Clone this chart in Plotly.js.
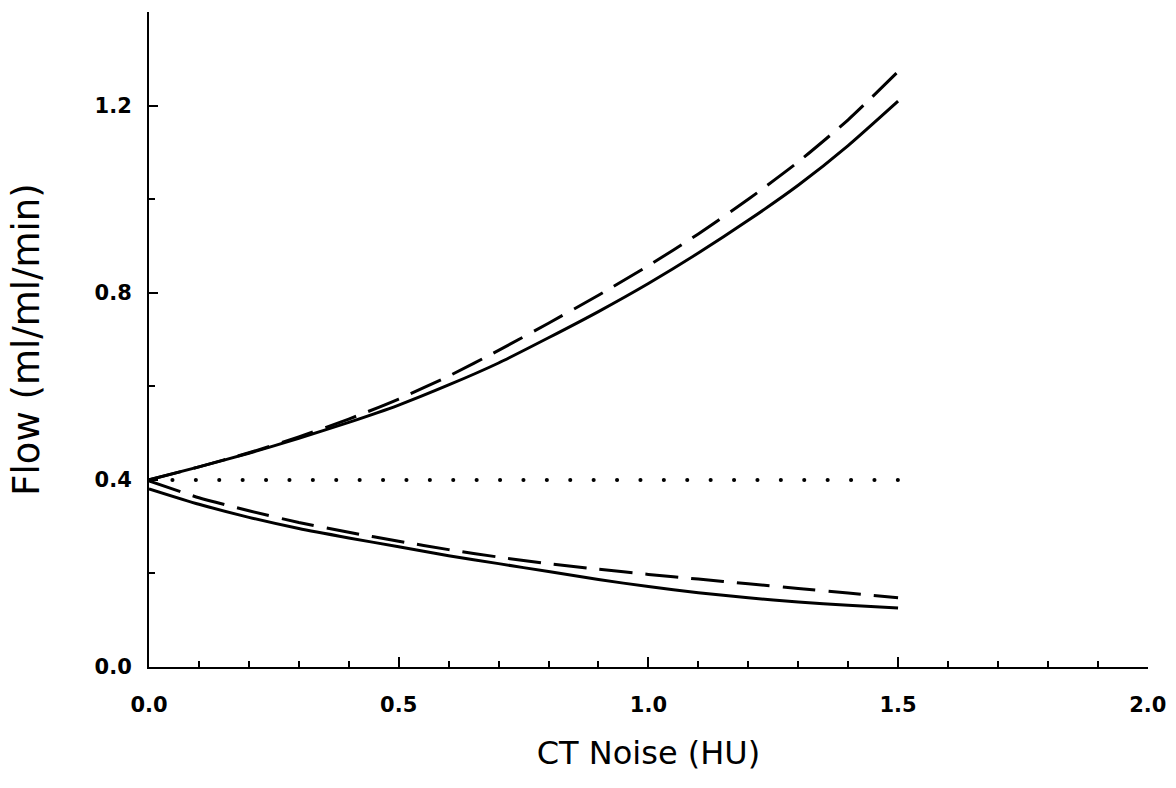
<!DOCTYPE html>
<html>
<head>
<meta charset="utf-8">
<script src="https://cdn.plot.ly/plotly-3.0.1.min.js"></script>
<style>
html,body{margin:0;padding:0;background:#fff;}
#chart{width:1176px;height:788px;}
.scatterlayer .trace:first-child path.js-line{stroke-linecap:round;}
</style>
</head>
<body>
<div id="chart"></div>
<script>
// CT noise (HU)
const noise = [0.0, 0.1, 0.2, 0.3, 0.4, 0.5, 0.6, 0.7, 0.8, 0.9, 1.0, 1.1, 1.2, 1.3, 1.4, 1.5];
// Flow (ml/ml/min) curves
const upperSolid  = [0.400, 0.428, 0.457, 0.489, 0.523, 0.560, 0.603, 0.650, 0.704, 0.760, 0.820, 0.885, 0.955, 1.030, 1.115, 1.210];
const upperDashed = [0.400, 0.428, 0.458, 0.492, 0.530, 0.573, 0.622, 0.677, 0.735, 0.795, 0.858, 0.926, 1.000, 1.080, 1.170, 1.273];
const lowerSolid  = [0.381, 0.348, 0.320, 0.296, 0.276, 0.257, 0.238, 0.221, 0.204, 0.187, 0.172, 0.159, 0.148, 0.139, 0.132, 0.126];
const lowerDashed = [0.398, 0.362, 0.334, 0.309, 0.288, 0.269, 0.251, 0.235, 0.221, 0.209, 0.198, 0.188, 0.178, 0.168, 0.158, 0.148];
// true flow reference
const trueX = [0.0, 1.5];
const trueFlow = [0.4, 0.4];

const xTitle = 'CT Noise (HU)';
const yTitle = 'Flow (ml/ml/min)';

const solid = {color: '#000', width: 3, shape: 'spline', smoothing: 0.6};
const dashed = {color: '#000', width: 3, dash: '33px,13px', shape: 'spline', smoothing: 0.6};

const traces = [
  {x: trueX, y: trueFlow, mode: 'lines', line: {color: '#000', width: 4, dash: '0.1px,23.3px'}, hoverinfo: 'skip'},
  {x: noise, y: upperSolid, mode: 'lines', line: solid, hoverinfo: 'skip'},
  {x: noise, y: upperDashed, mode: 'lines', line: dashed, hoverinfo: 'skip'},
  {x: noise, y: lowerSolid, mode: 'lines', line: solid, hoverinfo: 'skip'},
  {x: noise, y: lowerDashed, mode: 'lines', line: dashed, hoverinfo: 'skip'}
];

const tickFont = {family: 'DejaVu Sans, sans-serif', size: 21, color: '#000', weight: 'bold'};

const layout = {
  width: 1176, height: 788,
  margin: {l: 149, r: 28, t: 12, b: 121},
  paper_bgcolor: '#fff', plot_bgcolor: '#fff',
  showlegend: false,
  xaxis: {
    range: [0, 2.0005], showgrid: false, zeroline: false,
    showline: true, linecolor: '#000', linewidth: 2,
    ticks: 'inside', ticklen: 10, tickwidth: 2, tickcolor: '#000',
    dtick: 0.5, tick0: 0, tickformat: '.1f',
    tickfont: tickFont, ticklabelstandoff: 18,
    minor: {dtick: 0.1, tick0: 0, ticks: 'inside', ticklen: 6, tickwidth: 2, tickcolor: '#000', showgrid: false},
    title: {text: xTitle, font: {family: 'DejaVu Sans, sans-serif', size: 32, color: '#000'}, standoff: 25}
  },
  yaxis: {
    range: [0, 1.4005], showgrid: false, zeroline: false,
    showline: true, linecolor: '#000', linewidth: 2,
    ticks: 'inside', ticklen: 9, tickwidth: 2, tickcolor: '#000',
    dtick: 0.4, tick0: 0, tickformat: '.1f',
    tickfont: tickFont, ticklabelstandoff: 11,
    minor: {dtick: 0.2, tick0: 0, ticks: 'inside', ticklen: 6, tickwidth: 2, tickcolor: '#000', showgrid: false},
    title: {text: yTitle, font: {family: 'DejaVu Sans, sans-serif', size: 37, color: '#000'}, standoff: 44}
  }
};

Plotly.newPlot('chart', traces, layout, {displayModeBar: false, staticPlot: true});
</script>
</body>
</html>
